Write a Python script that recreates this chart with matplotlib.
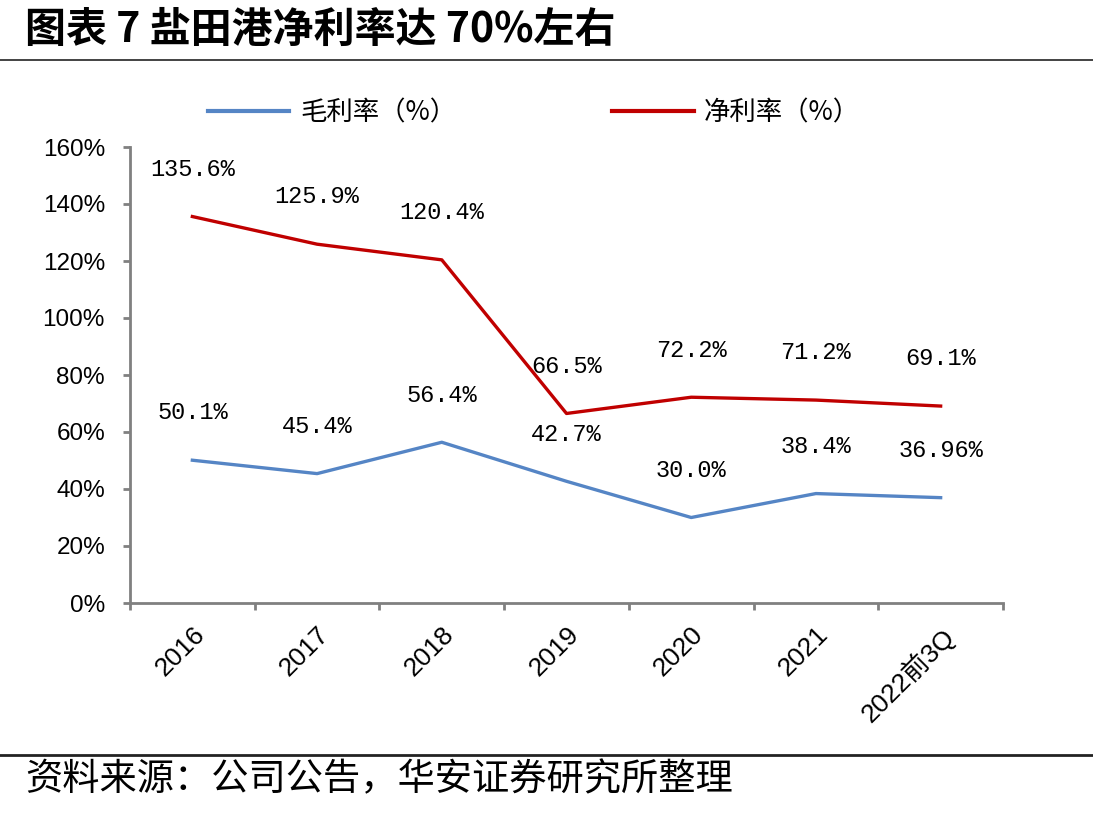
import matplotlib
matplotlib.use('Agg')
import matplotlib.pyplot as plt
from matplotlib.lines import Line2D

plt.rcParams['font.family'] = ['Liberation Sans', 'Noto Sans CJK SC', 'DejaVu Sans']
plt.rcParams['axes.unicode_minus'] = False

# 数据
years = ['2016', '2017', '2018', '2019', '2020', '2021', '2022前3Q']
gross = [50.1, 45.4, 56.4, 42.7, 30.0, 38.4, 36.96]
net = [135.6, 125.9, 120.4, 66.5, 72.2, 71.2, 69.1]
gross_labels = ['50.1%', '45.4%', '56.4%', '42.7%', '30.0%', '38.4%', '36.96%']
net_labels = ['135.6%', '125.9%', '120.4%', '66.5%', '72.2%', '71.2%', '69.1%']

blue = '#5585C5'
red = '#C00000'
grey = '#808080'

fig = plt.figure(figsize=(10.93, 8.15), dpi=100)
ax = fig.add_axes([130 / 1093, 1 - 603 / 815, 873 / 1093, 456 / 815])

x = list(range(len(years)))
ax.plot(x, [v / 100 for v in gross], color=blue, lw=2.4, solid_joinstyle='round')
ax.plot(x, [v / 100 for v in net], color=red, lw=2.4, solid_joinstyle='round')

# 数据标签
for xi, v, s in zip(x, gross, gross_labels):
    ax.annotate(s, (xi, v / 100), xytext=(0, 34), textcoords='offset points',
                ha='center', va='center', fontsize=17, family='Liberation Mono')
for xi, v, s in zip(x, net, net_labels):
    ax.annotate(s, (xi, v / 100), xytext=(0, 34), textcoords='offset points',
                ha='center', va='center', fontsize=17, family='Liberation Mono')

ax.set_xlim(-0.5, 6.5)
ax.set_ylim(0, 1.6)
ax.set_yticks([i * 0.2 for i in range(9)])
ax.set_yticklabels([f'{i * 20}%' for i in range(9)], fontsize=17.5)
ax.set_xticks([i - 0.5 for i in range(8)])
ax.set_xticklabels([])
ax.set_xticks(x, minor=True)
ax.set_xticklabels(years, minor=True, fontsize=19, rotation=45,
                   ha='right', rotation_mode='anchor')
ax.tick_params(axis='x', which='minor', length=0, pad=14)
ax.tick_params(axis='x', which='major', length=5, width=2, color=grey, direction='out')
ax.tick_params(axis='y', length=5, width=2, color=grey, direction='out', pad=13)

for s in ['top', 'right']:
    ax.spines[s].set_visible(False)
for s in ['left', 'bottom']:
    ax.spines[s].set_color(grey)
    ax.spines[s].set_linewidth(2)

handles = [Line2D([], [], color=blue, lw=3), Line2D([], [], color=red, lw=3)]
fig.legend(handles, ['毛利率（%）', '净利率（%）'], loc='center',
           bbox_to_anchor=(534 / 1093, 1 - 113 / 815), ncol=2, frameon=False,
           handlelength=3.1, columnspacing=5.9, handletextpad=0.4,
           prop={'family': ['Noto Sans CJK SC'], 'size': 19})

# 标题与来源
fig.text(25 / 1093, 1 - 30 / 815, '图表 7 盐田港净利率达 70%左右', fontsize=29.5,
         fontweight='bold', va='center', ha='left',
         family=['Noto Sans CJK SC', 'DejaVu Sans'])
fig.add_artist(Line2D([0, 1], [1 - 60 / 815, 1 - 60 / 815], color='#222222', lw=1.2))
fig.add_artist(Line2D([0, 1], [1 - 755 / 815, 1 - 755 / 815], color='#222222', lw=2))
fig.text(25 / 1093, 1 - 780 / 815, '资料来源：公司公告，华安证券研究所整理', fontsize=26.8,
         va='center', ha='left', family=['Noto Sans CJK SC', 'DejaVu Sans'])

fig.savefig('out.png', dpi=100)
